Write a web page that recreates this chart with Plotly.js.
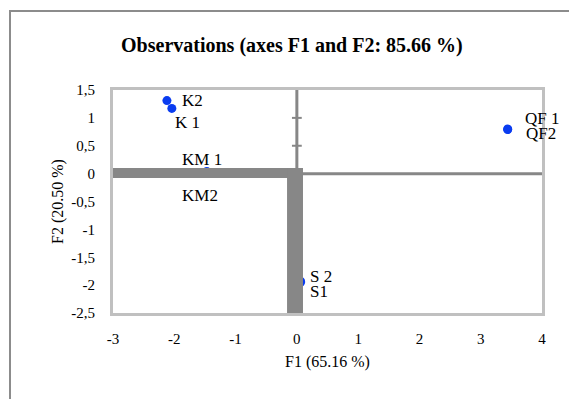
<!DOCTYPE html>
<html><head><meta charset="utf-8">
<script src="https://cdn.plot.ly/plotly-3.0.1.min.js"></script>
<style>
body{margin:0;padding:0;background:#fff;}
#wrap{position:relative;width:569px;height:399px;}
#frame{position:absolute;left:9px;top:10px;right:0;bottom:0;border-left:2px solid #8c8c8c;border-top:2px solid #8c8c8c;pointer-events:none;z-index:5;}
#chart{position:absolute;left:0;top:0;width:569px;height:399px;}
</style>
</head><body>
<div id="wrap"><div id="chart"></div><div id="frame"></div></div>
<script>
const labels = ["K2", "K 1", "KM 1", "KM2", "QF 1", "QF2", "S 2", "S1"];
const f1 = [-2.12, -2.04, -1.47, -1.47, 3.44, 3.44, 0.06, 0.06];
const f2 = [1.31, 1.17, 0.04, 0.02, 0.80, 0.79, -1.93, -1.95];
const xTicks = [-3, -2, -1, 0, 1, 2, 3, 4];
const xTickText = ["-3", "-2", "-1", "0", "1", "2", "3", "4"];
const yTicks = [1.5, 1, 0.5, 0, -0.5, -1, -1.5, -2, -2.5];
const yTickText = ["1,5", "1", "0,5", "0", "-0,5", "-1", "-1,5", "-2", "-2,5"];
// label pixel offsets relative to each point
const labelDx = [26, 16, -5, -7, 34, 33, 20, 18];
const labelDy = [0, -14, 12, -23, 11, -4, 5, -9];

const font = {family: "Liberation Serif, Times New Roman, serif", color: "#000", size: 14};
const grey = "#878787";

const annotations = labels.map((t, i) => ({
  x: f1[i], y: f2[i], xref: "x", yref: "y", text: t, showarrow: false,
  xshift: labelDx[i], yshift: labelDy[i], font: {family: font.family, size: 17, color: "#000"}
}));

const shapes = [
  {type: "line", xref: "x", yref: "y", x0: 0, x1: 0, y0: 1.5, y1: 0, line: {color: grey, width: 3}, layer: "above"},
  {type: "line", xref: "x", yref: "y", x0: 0, x1: 4, y0: 0, y1: 0, line: {color: grey, width: 3}, layer: "above"},
  {type: "rect", xref: "x", yref: "y", x0: -3, x1: 0.04, y0: -0.08, y1: 0.1, fillcolor: grey, line: {width: 0}, layer: "above"},
  {type: "rect", xref: "x", yref: "y", x0: -0.16, x1: 0.1, y0: -2.5, y1: 0.1, fillcolor: grey, line: {width: 0}, layer: "above"},
  {type: "line", xref: "x", yref: "y", x0: -0.08, x1: 0.08, y0: 1, y1: 1, line: {color: grey, width: 2}, layer: "above"},
  {type: "line", xref: "x", yref: "y", x0: -0.08, x1: 0.08, y0: 0.5, y1: 0.5, line: {color: grey, width: 2}, layer: "above"}
];

const trace = {
  x: f1, y: f2, type: "scatter", mode: "markers",
  marker: {color: "#0a3cf0", size: 9},
  hoverinfo: "skip", cliponaxis: true
};

const layout = {
  width: 569, height: 399,
  margin: {l: 113, r: 27, t: 90, b: 86},
  paper_bgcolor: "#fff", plot_bgcolor: "#fff",
  showlegend: false,
  font: font,
  title: {text: "<b>Observations (axes F1 and F2: 85.66 %)</b>", font: {family: font.family, size: 20, color: "#000"},
          x: 0.513, xref: "container", y: 0.887, yref: "container", xanchor: "center", yanchor: "middle"},
  xaxis: {
    range: [-3, 4], tickvals: xTicks, ticktext: xTickText, showgrid: false, zeroline: false,
    showline: true, mirror: true, linecolor: "#c0c0c0", linewidth: 3,
    ticks: "outside", ticklen: 10, tickcolor: "rgba(0,0,0,0)", tickfont: {family: font.family, size: 15},
    title: {text: "F1 (65.16 %)", font: {family: font.family, size: 16}, standoff: 10}
  },
  yaxis: {
    range: [-2.5, 1.5], tickvals: yTicks, ticktext: yTickText, showgrid: false, zeroline: false,
    showline: true, mirror: true, linecolor: "#c0c0c0", linewidth: 3,
    ticks: "outside", ticklen: 12, tickcolor: "rgba(0,0,0,0)", tickfont: {family: font.family, size: 15},
    title: {text: "F2 (20.50 %)", font: {family: font.family, size: 16}, standoff: 4}
  },
  annotations: annotations,
  shapes: shapes
};

Plotly.newPlot("chart", [trace], layout, {staticPlot: true, displayModeBar: false});
</script>
</body></html>
